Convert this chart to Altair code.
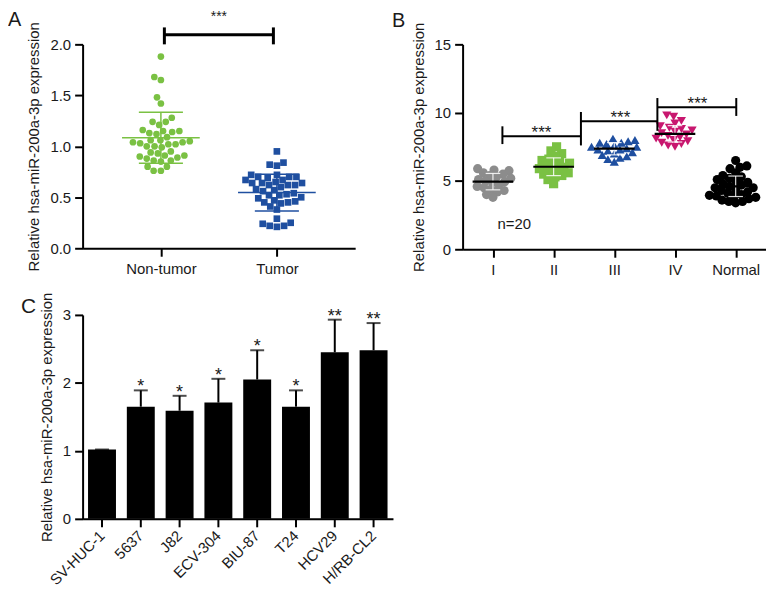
import math
import json
import altair as alt
import pandas as pd

FONT = "Liberation Sans"
INK = "#1a1a1a"
YTITLE = "Relative hsa-miR-200a-3p expression"

# ---------------- Panel A data ----------------
a_groups = ["Non-tumor", "Tumor"]
a_nontumor = [1.88, 1.65, 1.68, 1.48, 1.42, 1.28, 1.24, 1.21, 1.24, 1.15, 1.13, 1.12, 1.09, 1.14,
              1.15, 1.16, 1.06, 1.05, 1.04, 1.02, 1.00, 0.99, 1.00, 1.02, 1.03, 1.04, 1.06, 0.95,
              0.93, 0.91, 0.86, 0.91, 0.90, 0.89, 0.94, 0.85, 0.88, 0.86, 0.80, 0.76, 0.76, 0.80]
a_tumor = [0.95, 0.82, 0.81, 0.84, 0.72, 0.72, 0.70, 0.69, 0.70, 0.70, 0.67, 0.65, 0.64, 0.62,
           0.60, 0.62, 0.62, 0.64, 0.64, 0.67, 0.57, 0.54, 0.52, 0.49, 0.52, 0.53, 0.56, 0.58,
           0.50, 0.46, 0.45, 0.41, 0.38, 0.44, 0.45, 0.47, 0.25, 0.22, 0.21, 0.22, 0.24, 0.29]
a_mean = [1.085, 0.546]
a_sd = [0.25, 0.18]
a_colors = ["#7AC143", "#1F4FA0"]
a_shapes = ["circle", "square"]
a_bracket_x = [0.03, 0.97]
a_bracket_y = [2.094, 2.0, 2.166]   # bar level, tick bottom, tick top
a_sig = ["***"]
a_sig_y = [2.23]

# ---------------- Panel B data ----------------
b_groups = ["I", "II", "III", "IV", "Normal"]
b_stage1 = [5.9, 5.8, 5.75, 5.6, 5.5, 5.4, 5.3, 5.2, 5.1, 5.0, 4.95, 4.9, 4.7, 4.6, 4.5, 4.4, 4.3, 4.2, 4.0, 3.8]
b_stage2 = [7.5, 7.2, 7.0, 6.8, 6.6, 6.5, 6.4, 6.3, 6.2, 6.1, 6.0, 5.9, 5.8, 5.7, 5.6, 5.5, 5.4, 5.3, 5.1, 4.8]
b_stage3 = [8.1, 8.0, 7.9, 7.8, 7.8, 7.7, 7.6, 7.5, 7.5, 7.4, 7.3, 7.3, 7.2, 7.1, 7.0, 6.9, 6.8, 6.7, 6.6, 6.4]
b_stage4 = [9.8, 9.7, 9.4, 9.2, 9.0, 8.9, 8.8, 8.7, 8.6, 8.5, 8.4, 8.3, 8.2, 8.1, 8.0, 7.9, 7.8, 7.7, 7.6, 7.5]
b_normal = [6.5, 6.1, 6.0, 5.9, 5.6, 5.4, 5.3, 5.2, 5.1, 5.0, 4.9, 4.8, 4.7, 4.6, 4.5, 4.5, 4.4,
            4.3, 4.2, 4.1, 4.0, 3.95, 3.9, 3.9, 3.8, 3.7, 3.6, 3.5, 3.5, 3.4]
b_mean = [4.95, 6.04, 7.36, 8.45, 4.61]
b_sd = [0.6, 0.65, 0.45, 0.6, 0.75]
b_colors = ["#8C8C8C", "#7AC143", "#1F4FA0", "#C8176F", "#000000"]
b_shapes = ["circle", "square", "triangle-up", "triangle-down", "circle"]
b_bracket_x1 = [0.156, 1.45, 2.71]
b_bracket_x2 = [1.45, 2.71, 4.01]
b_bracket_y = [8.28, 9.37, 10.39]
b_tick_x = [0.156, 1.45, 2.71, 4.01]
b_tick_lo = [7.7, 7.6, 8.67, 9.76]
b_tick_hi = [9.0, 10.05, 11.07, 11.07]
b_sig = ["***", "***", "***"]
b_sig_x = [0.80, 2.10, 3.37]
b_note = ["n=20"]
b_note_x = [0.35]
b_note_y = [1.82]

# ---------------- Panel C data ----------------
c_lines = ["SV-HUC-1", "5637", "J82", "ECV-304", "BIU-87", "T24", "HCV29", "H/RB-CL2"]
c_mean = [1.02, 1.65, 1.59, 1.71, 2.05, 1.65, 2.45, 2.48]
c_upper = [1.02, 1.89, 1.81, 2.06, 2.48, 1.89, 2.93, 2.88]
c_sig = ["", "*", "*", "*", "*", "*", "**", "**"]


def swarm(values, px_per_unit, diam):
    """Deterministic beeswarm: pixel x offsets so points do not overlap."""
    idx = sorted(range(len(values)), key=lambda i: values[i])
    placed = []
    out = [0.0] * len(values)
    for i in idx:
        y = values[i] * px_per_unit
        ivs = []
        for xj, yj in placed:
            dy = abs(y - yj)
            if dy < diam:
                w = math.sqrt(diam * diam - dy * dy)
                ivs.append((xj - w, xj + w))
        cands = sorted({0.0} | {e for iv in ivs for e in iv}, key=lambda c: (abs(c), c))
        for c in cands:
            if all(not (lo + 1e-6 < c < hi - 1e-6) for lo, hi in ivs):
                out[i] = c
                break
        placed.append((out[i], y))
    return out


def lab_expr(labels):
    return json.dumps(labels) + "[round(datum.value)]"


FS = 15
AX = dict(domainColor="black", domainWidth=2, tickColor="black", tickWidth=2, tickSize=8,
          labelFont=FONT, labelFontSize=FS, labelColor=INK, titleFont=FONT, titleFontSize=FS,
          titleFontWeight="normal", titleColor=INK, grid=False)

# ================= Panel A =================
A_W, A_H = 274, 205
a_xdom = [-0.675, 1.675]
a_pxu = A_W / (a_xdom[1] - a_xdom[0])
a_pyu = A_H / 2.0

rows = []
for gi, (g, vals) in enumerate(zip(a_groups, [a_nontumor, a_tumor])):
    offs = swarm(vals, a_pyu, 7.3)
    for v, o in zip(vals, offs):
        rows.append({"ga": g, "x": gi + o / a_pxu, "y": v})
a_pts = pd.DataFrame(rows)

srows = []
for gi, g in enumerate(a_groups):
    m, s = a_mean[gi], a_sd[gi]
    srows.append({"ga": g, "x": gi - 0.335, "x2": gi + 0.335, "y": m, "y2": m})
    for yy in (m - s, m + s):
        srows.append({"ga": g, "x": gi - 0.19, "x2": gi + 0.19, "y": yy, "y2": yy})
    srows.append({"ga": g, "x": gi, "x2": gi, "y": m - s, "y2": m + s})
a_sum = pd.DataFrame(srows)

a_br = pd.DataFrame({
    "x": [a_bracket_x[0], a_bracket_x[0], a_bracket_x[1]],
    "x2": [a_bracket_x[1], a_bracket_x[0], a_bracket_x[1]],
    "y": [a_bracket_y[0], a_bracket_y[1], a_bracket_y[1]],
    "y2": [a_bracket_y[0], a_bracket_y[2], a_bracket_y[2]],
})
a_star = pd.DataFrame({"x": [sum(a_bracket_x) / 2], "y": a_sig_y, "t": a_sig})

xA = alt.X("x:Q", scale=alt.Scale(domain=a_xdom, nice=False, zero=False),
           axis=alt.Axis(values=[0, 1], labelExpr=lab_expr(a_groups), title=None, labelPadding=5, **AX))
yA = alt.Y("y:Q", scale=alt.Scale(domain=[0, 2], nice=False, zero=False),
           axis=alt.Axis(values=[0, 0.5, 1, 1.5, 2], format=".1f", title=YTITLE,
                         labelPadding=4, titlePadding=8, **AX))
cA = alt.Color("ga:N", scale=alt.Scale(domain=a_groups, range=a_colors), legend=None)

a_points = alt.Chart(a_pts).mark_point(filled=True, opacity=1, size=45, strokeWidth=0).encode(
    x=xA, y=yA, color=cA,
    shape=alt.Shape("ga:N", scale=alt.Scale(domain=a_groups, range=a_shapes), legend=None))
a_lines = alt.Chart(a_sum).mark_rule(strokeWidth=1.5).encode(
    x=xA, x2=alt.X2("x2:Q"), y=yA, y2=alt.Y2("y2:Q"), color=cA)
a_bracket = alt.Chart(a_br).mark_rule(strokeWidth=3, color="black").encode(
    x=xA, x2=alt.X2("x2:Q"), y=yA, y2=alt.Y2("y2:Q"))
a_stars = alt.Chart(a_star).mark_text(font=FONT, fontSize=14, baseline="alphabetic", color=INK).encode(
    x=xA, y=yA, text="t:N")
a_letter = alt.Chart(pd.DataFrame({"t": ["A"]})).mark_text(
    font=FONT, fontSize=20, align="left", baseline="middle", color=INK).encode(
    x=alt.value(-75), y=alt.value(-24), text="t:N")
chartA = alt.layer(a_points, a_lines, a_bracket, a_stars, a_letter).properties(width=A_W, height=A_H)

# ================= Panel B =================
B_W, B_H = 305, 206
b_xdom = [-0.5, 4.5]
b_pxu = B_W / 5.0
b_pyu = B_H / 15.0

rows = []
for gi, (g, vals) in enumerate(zip(b_groups, [b_stage1, b_stage2, b_stage3, b_stage4, b_normal])):
    offs = swarm(vals, b_pyu, 7.0)
    for v, o in zip(vals, offs):
        rows.append({"gb": g, "x": gi + o / b_pxu, "y": v})
b_pts = pd.DataFrame(rows)

mrows, wrows = [], []
for gi, g in enumerate(b_groups):
    m, s = b_mean[gi], b_sd[gi]
    mrows.append({"x": gi - 0.335, "x2": gi + 0.335, "y": m, "y2": m})
    for yy in (m - s, m + s):
        wrows.append({"x": gi - 0.12, "x2": gi + 0.12, "y": yy, "y2": yy})
    wrows.append({"x": gi, "x2": gi, "y": m - s, "y2": m + s})
b_meandf = pd.DataFrame(mrows)
b_sddf = pd.DataFrame(wrows)

brows = []
for x1, x2, yy in zip(b_bracket_x1, b_bracket_x2, b_bracket_y):
    brows.append({"x": x1, "x2": x2, "y": yy, "y2": yy})
for xx, lo, hi in zip(b_tick_x, b_tick_lo, b_tick_hi):
    brows.append({"x": xx, "x2": xx, "y": lo, "y2": hi})
b_br = pd.DataFrame(brows)
b_star = pd.DataFrame({"x": b_sig_x, "y": b_bracket_y, "t": b_sig})
b_nt = pd.DataFrame({"x": b_note_x, "y": b_note_y, "t": b_note})

xB = alt.X("x:Q", scale=alt.Scale(domain=b_xdom, nice=False, zero=False),
           axis=alt.Axis(values=[0, 1, 2, 3, 4], labelExpr=lab_expr(b_groups), title=None,
                         labelPadding=5, **AX))
yB = alt.Y("y:Q", scale=alt.Scale(domain=[0, 15], nice=False, zero=False),
           axis=alt.Axis(values=[0, 5, 10, 15], format="d", title=YTITLE,
                         labelPadding=4, titlePadding=8, **AX))
cB = alt.Color("gb:N", scale=alt.Scale(domain=b_groups, range=b_colors), legend=None)

b_points = alt.Chart(b_pts).mark_point(filled=True, opacity=1, size=85, strokeWidth=0).encode(
    x=xB, y=yB, color=cB,
    shape=alt.Shape("gb:N", scale=alt.Scale(domain=b_groups, range=b_shapes), legend=None))
b_sdl = alt.Chart(b_sddf).mark_rule(strokeWidth=1.2, color="white", opacity=0.85).encode(
    x=xB, x2=alt.X2("x2:Q"), y=yB, y2=alt.Y2("y2:Q"))
b_meanl = alt.Chart(b_meandf).mark_rule(strokeWidth=2.2, color="black").encode(
    x=xB, x2=alt.X2("x2:Q"), y=yB, y2=alt.Y2("y2:Q"))
b_bracket = alt.Chart(b_br).mark_rule(strokeWidth=2, color="black").encode(
    x=xB, x2=alt.X2("x2:Q"), y=yB, y2=alt.Y2("y2:Q"))
b_stars = alt.Chart(b_star).mark_text(font=FONT, fontSize=17, baseline="alphabetic", dy=2, color=INK).encode(
    x=xB, y=yB, text="t:N")
b_note_l = alt.Chart(b_nt).mark_text(font=FONT, fontSize=FS, baseline="middle", color=INK).encode(
    x=xB, y=yB, text="t:N")
b_letter = alt.Chart(pd.DataFrame({"t": ["B"]})).mark_text(
    font=FONT, fontSize=20, align="left", baseline="middle", color=INK).encode(
    x=alt.value(-71), y=alt.value(-23), text="t:N")
chartB = alt.layer(b_points, b_sdl, b_meanl, b_bracket, b_stars, b_note_l, b_letter).properties(
    width=B_W, height=B_H)

# ================= Panel C =================
C_W, C_H = 312, 205
c_df = pd.DataFrame({"line": c_lines, "mean": c_mean, "upper": c_upper, "sig": c_sig})
xC = alt.X("line:N", sort=c_lines,
           scale=alt.Scale(domain=c_lines, paddingInner=0.28, paddingOuter=0.14),
           axis=alt.Axis(labelAngle=315, labelAlign="right", labelBaseline="middle",
                         labelPadding=6, title=None, **AX))
c_yscale = alt.Scale(domain=[0, 3], nice=False)
c_yaxis = alt.Axis(values=[0, 1, 2, 3], format="d", title=YTITLE, labelPadding=4, titlePadding=8, **AX)
yC = alt.Y("mean:Q", scale=c_yscale, axis=c_yaxis)
yCu = alt.Y("upper:Q", scale=c_yscale, axis=c_yaxis)

c_bars = alt.Chart(c_df).mark_bar(color="black").encode(x=xC, y=yC)
c_err = alt.Chart(c_df).mark_rule(color="black", strokeWidth=2).encode(
    x=xC, y=yC, y2=alt.Y2("upper:Q"))
c_cap = alt.Chart(c_df).mark_tick(color="black", thickness=2, size=14).encode(x=xC, y=yCu)
c_stars = alt.Chart(c_df).mark_text(font=FONT, fontSize=18, baseline="alphabetic", dy=2, color=INK).encode(
    x=xC, y=yCu, text="sig:N")
c_letter = alt.Chart(pd.DataFrame({"t": ["C"]})).mark_text(
    font=FONT, fontSize=21, align="left", baseline="middle", color=INK).encode(
    x=alt.value(-62), y=alt.value(-8), text="t:N")
chartC = alt.layer(c_bars, c_err, c_cap, c_stars, c_letter).properties(width=C_W, height=C_H)

top = alt.hconcat(chartA, chartB, spacing=37).resolve_scale(color="independent", shape="independent")
chart = (alt.vconcat(top, chartC, spacing=15)
         .resolve_scale(color="independent", shape="independent")
         .properties(padding=0)
         .configure_view(stroke=None))

chart.save("out.html", embed_options={"renderer": "svg", "actions": False})
